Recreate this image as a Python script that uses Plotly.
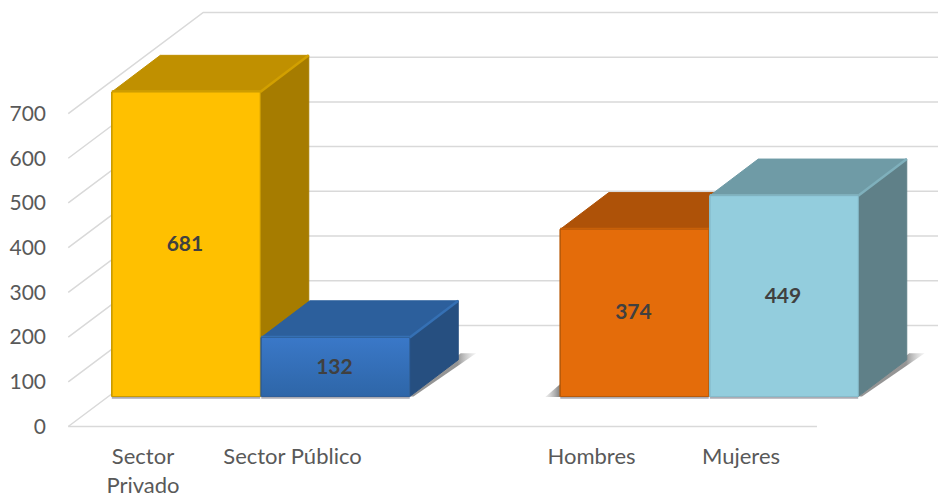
import plotly.graph_objects as go

# --- data ---
categories = ["Sector<br>Privado", "Sector Público", "Hombres", "Mujeres"]
slots = [0, 1, 3, 4]
values = [681, 132, 374, 449]
y_ticks = [0, 100, 200, 300, 400, 500, 600, 700]

front_colors = ["#FFC000", "#3A78C8", "#E46C0A", "#93CDDD"]
front_low = ["#FFC000", "#2E66A8", "#E46C0A", "#93CDDD"]
top_colors = ["#C09000", "#2C5F9C", "#AE5208", "#6F9BA6"]
side_colors = ["#A67C00", "#264F80", "#96470A", "#5F8088"]
bevel_colors = ["#D2A000", "#3570B4", "#C86008", "#7FB0BC"]
edge_colors = ["#C99A00", "#2F5F98", "#B85A0A", "#86BCCB"]

# --- 3-D projection, in axis units ---
PX_PER_SLOT = 149.5
PX_PER_UNIT = 0.4471
PX_LEFT = 68.25
PX_ZERO = 426.5
W, H = 938, 497

DX, DY = 135.0 / PX_PER_SLOT, 226.0   # full floor depth
FX0, FX1 = 0.3185, 0.678              # bar front / back share of depth, horizontally
FY0, FY1 = 0.297, 0.66                # same, vertically
WIDTH = 0.993
N_SLOTS = 5
GRID = "#D9D9D9"
TXT = "#595959"
FONT = "Lato, Carlito, Calibri, sans-serif"


def poly(fig, xs, ys, color, line=None, **extra):
    fig.add_trace(go.Scatter(
        x=xs + xs[:1], y=ys + ys[:1], mode="lines", fill="toself",
        fillcolor=color, line=dict(color=line or color, width=1),
        hoverinfo="skip", showlegend=False, **extra))


def seg(fig, xs, ys, color, width=1.5):
    fig.add_trace(go.Scatter(x=xs, y=ys, mode="lines",
                             line=dict(color=color, width=width),
                             hoverinfo="skip", showlegend=False))


fig = go.Figure()

x0 = -0.5
x1 = N_SLOTS - 0.5 + 0.008
for t in y_ticks:
    seg(fig, [x0, x0 + DX, x1 + DX], [t, t + DY, t + DY], GRID)
seg(fig, [x0, x1], [0, 0], GRID)

ox = (FX1 - FX0) * DX
oy = (FY1 - FY0) * DY
base = FY0 * DY
bar_left = [s - WIDTH / 2 + FX0 * DX for s in slots]

# shadows
for i, (left, v) in enumerate(zip(bar_left, values)):
    right = left + WIDTH
    if i in (1, 3):
        poly(fig, [right, right + ox * 1.05, right + ox * 1.37, right + 0.025],
             [base, base + oy * 1.18, base + oy * 1.18, base], "rgba(130,130,130,0.0)",
             line="rgba(0,0,0,0)",
             fillgradient=dict(type="horizontal",
                               colorscale=[[0, "rgba(130,130,130,0.85)"], [0.72, "rgba(130,130,130,0.85)"],
                                           [1, "rgba(215,215,215,0.3)"]]))
    if i == 2:
        poly(fig, [left - 0.1, left, left], [base - 1, base - 1, base + 28], "rgba(130,130,130,0.0)",
             line="rgba(0,0,0,0)",
             fillgradient=dict(type="horizontal",
                               colorscale=[[0, "rgba(220,220,220,0.5)"], [1, "rgba(110,110,110,0.9)"]]))

# bars, painted left to right so nearer faces hide the ones behind
for i, (left, v) in enumerate(zip(bar_left, values)):
    right = left + WIDTH
    top = base + v
    # ground line under the bar
    seg(fig, [left, right], [base - 3, base - 3], "rgba(150,150,160,0.8)", 2)
    # side
    poly(fig, [right, right + ox, right + ox, right], [base, base + oy, top + oy, top], side_colors[i])
    # top
    poly(fig, [left, right, right + ox, left + ox], [top, top, top + oy, top + oy], top_colors[i])
    # front
    poly(fig, [left, right, right, left], [base, base, top, top], front_colors[i],
         line=edge_colors[i],
         fillgradient=dict(type="vertical",
                           colorscale=[[0, front_low[i]], [1, front_colors[i]]]))
    # bevels
    seg(fig, [right, right + ox], [top, top + oy], bevel_colors[i], 2.5)
    seg(fig, [left, right], [top + 2, top + 2], bevel_colors[i], 1.5)
    seg(fig, [left, left], [base, top], edge_colors[i], 1.5)

# value labels
fig.add_trace(go.Scatter(
    x=[left + WIDTH / 2 - 0.007 for left in bar_left],
    y=[base + v / 2 - 3 for v in values],
    text=[str(v) for v in values], mode="text",
    textfont=dict(family=FONT, size=21, color="#404040", weight="bold"),
    hoverinfo="skip", showlegend=False))

fig.update_layout(
    width=W, height=H, autosize=False,
    margin=dict(l=0, r=0, t=0, b=0),
    paper_bgcolor="white", plot_bgcolor="white",
    showlegend=False,
    font=dict(family=FONT, color=TXT, size=21),
    xaxis=dict(
        range=[-0.5 - PX_LEFT / PX_PER_SLOT, -0.5 + (W - PX_LEFT) / PX_PER_SLOT],
        domain=[0, 1], anchor="free", position=(H - PX_ZERO) / H, automargin=False,
        tickmode="array", tickvals=slots, ticktext=categories,
        ticks="outside", ticklen=10, tickcolor="rgba(0,0,0,0)", tickwidth=1,
        tickangle=0, tickfont=dict(family=FONT, size=22, color=TXT),
        showgrid=False, zeroline=False, showline=False,
    ),
    yaxis=dict(
        range=[-(H - PX_ZERO) / PX_PER_UNIT, PX_ZERO / PX_PER_UNIT],
        domain=[0, 1], anchor="free", position=PX_LEFT / W, automargin=False,
        tickmode="array", tickvals=y_ticks,
        ticks="outside", ticklen=18, tickcolor="rgba(0,0,0,0)", tickwidth=1,
        tickfont=dict(family=FONT, size=21, color=TXT),
        showgrid=False, zeroline=False, showline=False,
    ),
)

fig.write_html("out.html", config=dict(displayModeBar=False),
               post_script="document.body.style.margin='0';document.body.style.overflow='hidden';")
